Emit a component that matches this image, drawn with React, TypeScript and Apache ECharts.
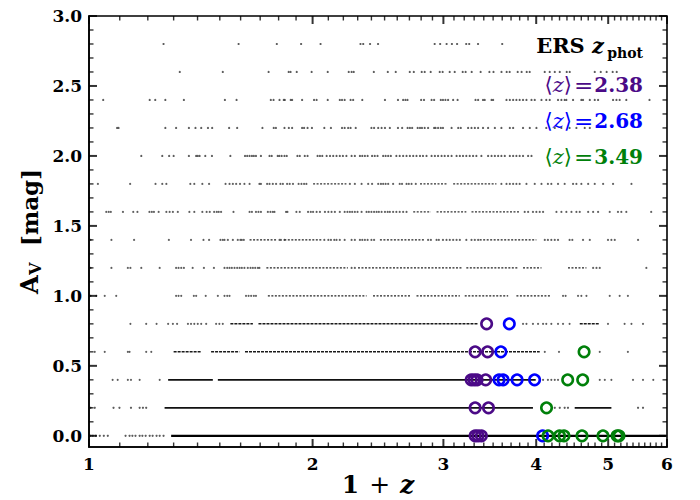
import React, { useEffect, useRef } from 'react';
import * as echarts from 'echarts';

const X_MAJOR = [1, 2, 3, 4, 5, 6];
const X_MINOR = [1.1, 1.2, 1.3, 1.4, 1.5, 1.6, 1.7, 1.8, 1.9, 2.1, 2.2, 2.3, 2.4, 2.5, 2.6, 2.7, 2.8, 2.9, 3.1, 3.2, 3.3, 3.4, 3.5, 3.6, 3.7, 3.8, 3.9, 4.1, 4.2, 4.3, 4.4, 4.5, 4.6, 4.7, 4.8, 4.9, 5.1, 5.2, 5.3, 5.4, 5.5, 5.6, 5.7, 5.8, 5.9];
const Y_MAJOR = [0, 0.5, 1.0, 1.5, 2.0, 2.5, 3.0];
const Y_MINOR = [0.1, 0.2, 0.3, 0.4, 0.6, 0.7, 0.8, 0.9, 1.1, 1.2, 1.3, 1.4, 1.6, 1.7, 1.8, 1.9, 2.1, 2.2, 2.3, 2.4, 2.6, 2.7, 2.8, 2.9];
const X_MIN = 1;
const X_MAX = 6;
const Y_MIN = -0.08;
const Y_MAX = 3.0;

// individual catalogue points (1+z) on each A_V grid row
const dotsAv28 = [1.26, 1.59, 1.79, 1.93, 2.05, 2.32, 2.34, 2.39, 2.45, 2.92, 2.97, 3.03, 3.08, 3.13, 3.22, 3.25, 3.34, 3.6];
const dotsAv26 = [1.325, 1.514, 1.745, 1.857, 1.868, 1.904, 1.994, 2.096, 2.237, 2.257, 2.272, 2.418, 2.525, 2.588, 2.703, 2.737, 2.805, 2.831, 2.884, 2.966, 2.993, 3.059, 3.107, 3.185, 3.214, 3.275, 3.367, 3.46, 3.504, 3.592, 3.65, 3.684, 3.777, 3.823, 3.884, 3.92, 4.107, 4.171, 4.237, 4.303, 4.397, 4.438, 4.796, 4.886, 4.976, 5.07, 5.134];
const dotsAv24 = [1.045, 1.207, 1.228, 1.267, 1.342, 1.524, 1.58, 1.757, 1.772, 1.805, 1.829, 1.835, 1.869, 1.877, 1.936, 2.009, 2.025, 2.096, 2.176, 2.191, 2.209, 2.25, 2.268, 2.333, 2.503, 2.606, 2.648, 2.667, 2.684, 2.8, 2.825, 2.892, 2.915, 2.976, 2.996, 3.019, 3.044, 3.092, 3.135, 3.314, 3.341, 3.392, 3.41, 3.483, 3.5, 3.648, 3.686, 3.724, 3.762, 3.8, 3.84, 3.881, 3.942, 3.982, 4.066, 4.127, 4.171, 4.28, 4.325, 4.369, 4.392, 4.484, 4.601, 4.625, 4.723, 4.796, 4.846, 5.076, 5.13, 5.181, 5.289, 5.683];
const dotsAv22 = [1.091, 1.096, 1.267, 1.31, 1.363, 1.391, 1.416, 1.446, 1.465, 1.544, 1.583, 1.712, 1.773, 1.785, 1.833, 1.858, 1.877, 1.936, 1.948, 1.969, 1.996, 2.074, 2.117, 2.191, 2.209, 2.233, 2.25, 2.286, 2.4, 2.42, 2.451, 2.477, 2.503, 2.541, 2.606, 2.64, 2.685, 2.704, 2.723, 2.77, 2.79, 2.807, 2.831, 2.861, 2.915, 2.928, 2.951, 2.976, 2.996, 3.077, 3.141, 3.166, 3.239, 3.273, 3.307, 3.341, 3.392, 3.446, 3.519, 3.591, 3.686, 3.724, 3.84, 3.921, 4.003, 4.127, 4.237, 4.325, 4.436, 4.531, 4.649, 4.723];
const dotsAv20 = [1.176, 1.255, 1.282, 1.3, 1.363, 1.394, 1.401, 1.409, 1.434, 1.464, 1.55, 1.622, 1.633, 1.645, 1.657, 1.667, 1.678, 1.704, 1.75, 1.762, 1.795, 1.804, 1.817, 1.833, 1.846, 1.908, 1.922, 1.952, 1.969, 2.031, 2.046, 2.061, 2.089, 2.111, 2.132, 2.154, 2.176, 2.197, 2.221, 2.257, 2.28, 2.316, 2.333, 2.352, 2.372, 2.405, 2.425, 2.446, 2.489, 2.508, 2.528, 2.549, 2.593, 2.62, 2.648, 2.676, 2.704, 2.732, 2.76, 2.79, 2.816, 2.847, 2.892, 2.922, 2.951, 2.983, 3.012, 3.044, 3.077, 3.125, 3.157, 3.188, 3.221, 3.255, 3.289, 3.323, 3.375, 3.446, 3.483, 3.519, 3.555, 3.591, 3.629, 3.686, 3.724, 3.762, 3.8, 3.84, 3.901, 3.942];
const dotsAv18 = [1.028, 1.136, 1.229, 1.255, 1.271, 1.369, 1.386, 1.421, 1.451, 1.527, 1.546, 1.562, 1.578, 1.597, 1.619, 1.645, 1.696, 1.704, 1.737, 1.75, 1.768, 1.786, 1.81, 1.824, 1.848, 1.863, 1.882, 1.915, 1.932, 1.948, 1.962, 2.245, 2.28, 2.328, 2.376, 2.405, 2.451, 2.472, 2.489, 2.508, 2.528, 2.567, 2.62, 2.639, 2.676, 2.695, 2.718, 2.754, 3.591, 3.648, 3.686, 3.724, 3.762, 3.8, 3.881, 3.982, 4.066, 4.148, 4.192, 4.28, 4.369, 4.484, 4.531, 4.601, 4.699, 4.796, 4.922, 5.076, 5.374];
const dotsAv16 = [1.055, 1.063, 1.07, 1.111, 1.147, 1.162, 1.206, 1.215, 1.223, 1.241, 1.271, 1.284, 1.297, 1.317, 1.365, 1.386, 1.421, 1.44, 1.454, 1.474, 1.486, 1.495, 1.506, 1.565, 1.645, 1.657, 1.678, 1.691, 1.704, 1.741, 1.755, 1.768, 1.777, 1.842, 1.85, 1.902, 1.922, 1.972, 1.989, 2.003, 2.025, 2.046, 2.078, 2.1, 2.121, 2.143, 2.176, 2.209, 2.228, 2.245, 2.261, 2.28, 2.299, 2.328, 2.364, 2.381, 2.4, 2.42, 2.439, 2.456, 2.477, 2.503, 2.524, 2.541, 2.567, 2.593, 2.62, 2.648, 2.676, 3.86, 3.901, 3.96, 4.002, 4.044, 4.086, 4.259, 4.325, 4.392, 4.462, 4.531, 4.578, 4.699, 4.772, 4.846, 5.024, 5.154, 5.208, 5.289, 5.713];
const dotsAv14 = [1.005, 1.072, 1.15, 1.281, 1.372, 1.426, 1.451, 1.503, 1.514, 1.522, 1.538, 1.562, 1.586, 1.599, 1.606, 1.616, 1.805, 1.813, 1.833, 2.074, 2.1, 2.117, 2.139, 2.154, 2.176, 2.209, 2.257, 2.28, 2.316, 2.333, 2.352, 2.372, 2.4, 2.42, 2.861, 2.886, 2.937, 2.958, 2.996, 3.029, 3.06, 3.092, 3.125, 3.157, 3.221, 3.273, 3.307, 3.341, 4.108, 4.148, 4.192, 4.237, 4.28, 4.436, 4.474, 4.625, 4.723, 4.997, 5.05, 5.103, 5.485];
const dotsAv12 = [1.005, 1.072, 1.128, 1.137, 1.176, 1.245, 1.31, 1.32, 1.331, 1.342, 1.379, 1.428, 1.473, 1.522, 1.535, 1.546, 1.557, 1.57, 1.583, 1.595, 1.606, 1.619, 1.636, 1.65, 1.662, 1.674, 1.688, 1.696, 2.257, 2.28, 4.772, 4.822, 4.871, 5.628];
const dotsAv10 = [1.005, 1.023, 1.05, 1.088, 1.31, 1.32, 1.331, 1.384, 1.394, 1.436, 1.491, 1.522, 1.535, 1.546, 1.627, 1.64, 1.653, 1.667, 1.678, 4.347, 4.382, 4.554, 4.601, 4.674, 5.024, 5.181, 5.315];
const dotsAv08 = [1.137, 1.194, 1.233, 1.278, 1.297, 1.314, 1.359, 1.372, 1.386, 1.401, 1.416, 1.438, 1.483, 1.498, 1.514, 3.84, 3.881, 3.96, 4.023, 4.086, 4.127, 4.192, 4.28, 4.347, 4.436, 4.997, 5.261, 5.374, 5.57];
const dotsAv06 = [1.018, 1.05, 1.128, 1.134, 1.194, 1.213, 4.108, 4.293, 4.871, 5.315];
const dotsAv04 = [1.076, 1.093, 1.128, 1.139, 1.17, 1.245, 4.086, 4.148, 4.192, 4.237, 4.28, 4.871, 4.948, 5.05, 5.4, 5.57, 5.75];
const dotsAv02 = [1.005, 1.018, 1.079, 1.099, 1.139, 1.17, 1.182, 1.194, 4.237, 4.303, 4.369, 4.414, 5.485, 5.57];
const dotsAv00 = [1.005, 1.012, 1.021, 1.034, 1.047, 1.06, 1.12, 1.134, 1.144, 1.155, 1.17, 1.18, 1.192, 1.207, 1.218, 1.233, 1.245, 1.26];

// stretches of (1+z) so densely populated that the points merge into a line
const segsAv18 = [[2.003, 2.221], [2.79, 3.035], [3.092, 3.536]];
const segsAv16 = [[2.732, 2.886], [2.937, 3.221], [3.273, 3.8]];
const segsAv14 = [[1.645, 1.786], [1.832, 2.057], [2.464, 2.831], [3.357, 4.002]];
const segsAv12 = [[1.733, 2.231], [2.302, 3.176], [3.221, 3.781], [3.84, 4.066], [4.414, 4.674]];
const segsAv10 = [[1.741, 2.364], [2.412, 2.718], [2.76, 3.157], [3.205, 3.667], [3.762, 4.192]];
const segsAv08 = [[1.55, 1.662], [1.691, 3.341], [4.578, 4.871]];
const segsAv06 = [[1.3, 1.416], [1.46, 1.594], [1.622, 4.044]];
const segsAv04 = [[1.278, 1.468], [1.491, 3.994]];
const segsAv02 = [[1.264, 3.96], [4.507, 5.05]];
const segsAv00 = [[1.29, 5.98]];

const ROW_DOTS: [number, number[]][] = [
  [2.8, dotsAv28], [2.6, dotsAv26], [2.4, dotsAv24], [2.2, dotsAv22], [2.0, dotsAv20],
  [1.8, dotsAv18], [1.6, dotsAv16], [1.4, dotsAv14], [1.2, dotsAv12], [1.0, dotsAv10],
  [0.8, dotsAv08], [0.6, dotsAv06], [0.4, dotsAv04], [0.2, dotsAv02], [0.0, dotsAv00],
];
const ROW_SEGS: [number, number[][]][] = [
  [1.8, segsAv18], [1.6, segsAv16], [1.4, segsAv14], [1.2, segsAv12], [1.0, segsAv10],
  [0.8, segsAv08], [0.6, segsAv06], [0.4, segsAv04], [0.2, segsAv02], [0.0, segsAv00],
];

// highlighted galaxies [1+z, A_V]
const purplePts = [[3.43, 0.8], [3.31, 0.6], [3.44, 0.6], [3.27, 0.4], [3.3, 0.4], [3.33, 0.4], [3.42, 0.4], [3.31, 0.2], [3.45, 0.2], [3.31, 0.0], [3.34, 0.0], [3.375, 0.0]];
const bluePts = [[3.68, 0.8], [3.585, 0.6], [3.565, 0.4], [3.61, 0.4], [3.77, 0.4], [3.98, 0.4], [4.08, 0.0]];
const greenPts = [[4.64, 0.6], [4.41, 0.4], [4.62, 0.4], [4.13, 0.2], [4.15, 0.0], [4.3, 0.0], [4.36, 0.0], [4.61, 0.0], [4.92, 0.0], [5.14, 0.0], [5.17, 0.0]];

const MEANS = ['2.38', '2.68', '3.49'];
const COLORS = ['#4b0a87', '#0000ff', '#00800a'];

const FONT = "'DejaVu Serif', 'Liberation Serif', serif";

function segStyle(av: number) {
  if (av === 0) return { width: 2.2, color: '#000', type: 'solid' as any };
  if (av <= 0.4) return { width: 1.8, color: '#111', type: 'solid' as any };
  if (av <= 0.8) return { width: 1.5, color: '#1a1a1a', type: [3, 1] as any };
  if (av <= 1.4) return { width: 1.3, color: '#222', type: [2, 1.5] as any };
  return { width: 1.2, color: '#333', type: [2, 1.5] as any };
}

// tick marks drawn as thin rectangles anchored on the axis values
function tickSeries(data: number[][], size: number[], offset: number[]) {
  return {
    type: 'scatter', clip: false,
    data, symbol: 'rect', symbolSize: size, symbolOffset: offset,
    itemStyle: { color: '#000' },
  };
}

export default function App() {
  const ref = useRef<HTMLDivElement>(null);
  useEffect(() => {
    document.body.style.margin = '0';
    const chart = echarts.init(ref.current!, null, { renderer: 'svg' });
    const dotData: number[][] = [];
    ROW_DOTS.forEach(([av, xs]) => xs.forEach((x) => dotData.push([x, av])));
    const segSeries: any[] = [];
    ROW_SEGS.forEach(([av, segs]) =>
      segs.forEach(([a, b]) =>
        segSeries.push({
          type: 'line', silent: true, showSymbol: false, symbol: 'none',
          data: [[a, av], [b, av]], lineStyle: segStyle(av), z: 2,
        })
      )
    );
    const circle = (data: number[][], color: string, z: number) => ({
      type: 'scatter', data, symbol: 'circle', symbolSize: 10.5,
      itemStyle: { color: 'rgba(0,0,0,0)', borderColor: color, borderWidth: 2.6, opacity: 1 }, z,
    });
    const ticks = [
      tickSeries(X_MAJOR.map((v) => [v, Y_MIN]), [2, 8], [0, -4]),
      tickSeries(X_MINOR.map((v) => [v, Y_MIN]), [1.4, 4.5], [0, -2.25]),
      tickSeries(X_MAJOR.map((v) => [v, Y_MAX]), [2, 8], [0, 4]),
      tickSeries(X_MINOR.map((v) => [v, Y_MAX]), [1.4, 4.5], [0, 2.25]),
      tickSeries(Y_MAJOR.map((v) => [X_MIN, v]), [8, 2], [4, 0]),
      tickSeries(Y_MINOR.map((v) => [X_MIN, v]), [4.5, 1.4], [2.25, 0]),
      tickSeries(Y_MAJOR.map((v) => [X_MAX, v]), [8, 2], [-4, 0]),
      tickSeries(Y_MINOR.map((v) => [X_MAX, v]), [4.5, 1.4], [-2.25, 0]),
    ];
    const tickFont = { color: '#000', fontFamily: FONT, fontWeight: 'bold' as any, fontSize: 17 };
    chart.setOption({
      animation: false,
      backgroundColor: '#fff',
      grid: { left: 89, right: 33, top: 16, bottom: 53, containLabel: false, show: true, borderColor: '#000', borderWidth: 1.6, backgroundColor: 'transparent' },
      xAxis: [{
        type: 'log', logBase: 10, min: X_MIN, max: X_MAX,
        axisLine: { show: true, onZero: false, lineStyle: { color: '#000', width: 1.6 } },
        axisTick: { show: false },
        axisLabel: { show: true, customValues: X_MAJOR, formatter: (v: number) => String(Math.round(v)), margin: 8, ...tickFont },
        splitLine: { show: false }, minorTick: { show: false },
      }],
      yAxis: [{
        type: 'value', min: Y_MIN, max: Y_MAX,
        axisLine: { show: true, onZero: false, lineStyle: { color: '#000', width: 1.6 } },
        axisTick: { show: false },
        axisLabel: { show: true, customValues: Y_MAJOR, formatter: (v: number) => v.toFixed(1), margin: 7, ...tickFont },
        splitLine: { show: false },
      }],
      series: [
        { type: 'scatter', silent: true, data: dotData, symbol: 'circle', symbolSize: 2.2, itemStyle: { color: '#333' }, z: 1 },
        ...segSeries,
        circle(purplePts, COLORS[0], 5),
        circle(bluePts, COLORS[1], 6),
        circle(greenPts, COLORS[2], 7),
        ...ticks,
      ],
      graphic: [
        { type: 'text', x: 604, y: 45, style: { text: '{r|ERS }{z|z}', align: 'right', verticalAlign: 'middle', fill: '#000', rich: { r: { fontFamily: FONT, fontSize: 21, fontWeight: 'bold', fill: '#000' }, z: { fontFamily: FONT, fontSize: 21, fontWeight: 'bold', fontStyle: 'italic', fill: '#000' } } }, z: 100 },
        { type: 'text', x: 643, y: 53, style: { text: 'phot', align: 'right', verticalAlign: 'middle', fill: '#000', fontFamily: FONT, fontSize: 14, fontWeight: 'bold' }, z: 100 },
        ...MEANS.map((m, i) => ({
          type: 'text', x: 643, y: 85 + i * 36,
          style: {
            text: `{a|⟨}{z|z}{a|⟩}{e|=}{n|${m}}`,
            align: 'right', verticalAlign: 'middle', fill: COLORS[i],
            rich: {
              a: { fontFamily: FONT, fontSize: 21, fill: COLORS[i] },
              z: { fontFamily: FONT, fontSize: 21, fontStyle: 'italic', fill: COLORS[i] },
              e: { fontFamily: FONT, fontSize: 23, fill: COLORS[i], padding: [0, 1, 0, 2] },
              n: { fontFamily: FONT, fontSize: 20, fontWeight: 'bold', fill: COLORS[i] },
            },
          },
          z: 100,
        })),
        { type: 'text', x: 378, y: 484, style: { text: '{o|1}{p|+}{z|z}', align: 'center', verticalAlign: 'middle', fill: '#000', rich: { o: { fontFamily: FONT, fontSize: 25, fontWeight: 'bold', fill: '#000' }, p: { fontFamily: FONT, fontSize: 25, fill: '#000', padding: [0, 10, 0, 10] }, z: { fontFamily: FONT, fontSize: 25, fontWeight: 'bold', fontStyle: 'italic', fill: '#000' } } }, z: 100 },
        {
          type: 'group', x: 29, y: 232, rotation: Math.PI / 2, z: 100,
          children: [
            { type: 'text', x: -62, y: 0, style: { text: 'A', align: 'left', verticalAlign: 'middle', fill: '#000', fontFamily: FONT, fontSize: 24, fontWeight: 'bold' } },
            { type: 'text', x: -43, y: 6, style: { text: 'V', align: 'left', verticalAlign: 'middle', fill: '#000', fontFamily: FONT, fontSize: 16, fontWeight: 'bold' } },
            { type: 'text', x: -14, y: 0, style: { text: '[mag]', align: 'left', verticalAlign: 'middle', fill: '#000', fontFamily: FONT, fontSize: 23, fontWeight: 'bold' } },
          ],
        },
      ],
    });
    return () => chart.dispose();
  }, []);
  return <div ref={ref} style={{ width: 700, height: 500 }} />;
}
